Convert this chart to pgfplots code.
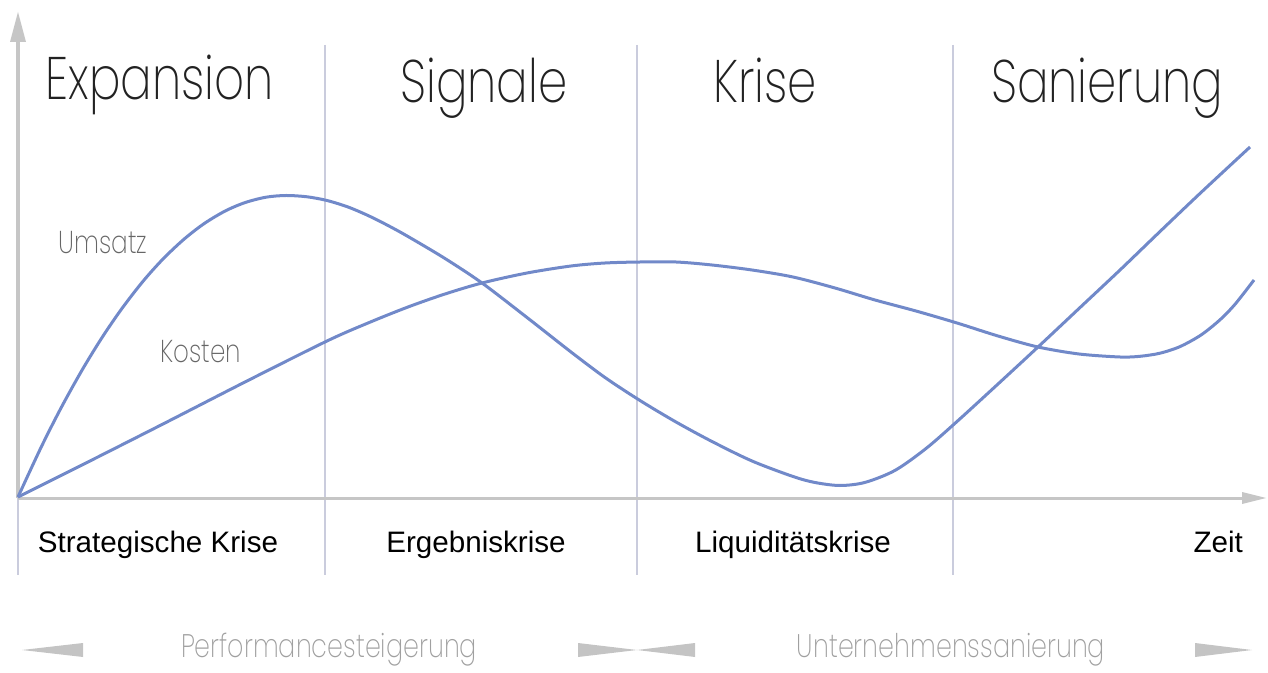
\documentclass[border=0pt]{standalone}
\usepackage{pgfplots}
\pgfplotsset{compat=1.18}
\usepackage{fontspec}
\setmainfont{Liberation Sans}
\newfontfamily\futura{Poppins ExtraLight}[FakeStretch=0.78]

\definecolor{curveblue}{HTML}{7189C9}
\definecolor{sepcol}{HTML}{CACCDD}
\definecolor{axisgrey}{HTML}{C6C6C6}
\definecolor{titlegrey}{HTML}{222222}
\definecolor{labelgrey}{HTML}{666666}
\definecolor{lightgrey}{HTML}{A0A0A0}
\definecolor{arrowgrey}{HTML}{C4C4C4}

\begin{document}
\begin{tikzpicture}
\begin{axis}[
  width=634pt, height=333pt, scale only axis,
  xmin=0, xmax=1268, ymin=0, ymax=666,
  y dir=reverse,
  hide axis, clip=false,
]
% frame for the bounding box
\path (axis cs:0,0) rectangle (axis cs:1268,666);

% phase separators
\addplot[sepcol, line width=0.8pt] coordinates {(325,45) (325,575)};
\addplot[sepcol, line width=0.8pt] coordinates {(637,45) (637,575)};
\addplot[sepcol, line width=0.8pt] coordinates {(953,45) (953,575)};
\addplot[sepcol, line width=0.8pt] coordinates {(18,498) (18,575)};

% axes
\draw[axisgrey, line width=1.8pt] (axis cs:18,498) -- (axis cs:18,38);
\fill[axisgrey] (axis cs:18,12) -- (axis cs:26,42) -- (axis cs:10,42) -- cycle;
\draw[axisgrey, line width=1.5pt] (axis cs:18,498) -- (axis cs:1245,498);
\fill[axisgrey] (axis cs:1266,498) -- (axis cs:1242,492) -- (axis cs:1242,504) -- cycle;

% Umsatz
\addplot[curveblue, line width=1.5pt, smooth] coordinates {
(18,497) (41,447.5) (61,408) (82,370.2) (102,337.6) (122,308.4) (143,281.3)
(163,259) (184,239.2) (204,223.7) (225,211.1) (245,202.6) (266,197.2)
(286,195.5) (307,196.8) (327,200.5) (348,207) (368,215.5) (388,225.5)
(408,236.5) (445,258.5) (482,283) (527,317.5) (571,352) (605,377.5)
(640,400.5) (676,422) (712,441.5) (752,461) (793,476.5) (815,482.5)
(840,485.5) (865,482.4) (895,470.4) (926,448.5) (957,421.5) (998,384)
(1038,347) (1079,308.5) (1120,270) (1160,231.5) (1201,192.5) (1250,147)};
% Kosten
\addplot[curveblue, line width=1.5pt, smooth] coordinates {
(18,497) (82,465) (163,424) (245,382) (327,341) (368,323) (408,307)
(445,294) (482,283) (527,273) (571,266) (605,263) (640,262) (676,262)
(712,265) (752,270) (793,277) (835,288) (875,300) (916,311) (957,323)
(998,336) (1038,347) (1079,354) (1120,357) (1140,356.3) (1160,353.2)
(1180,346.6) (1201,335) (1220,319.8) (1235,304.3) (1254,280)};

% phase titles
\begin{scope}[every node/.style={anchor=base, text=titlegrey,
    font=\futura\fontsize{30}{30}\selectfont}]
\node at (axis cs:160,100) {Expansion};
\node at (axis cs:484,103) {Signale};
\node at (axis cs:765,103) {Krise};
\node at (axis cs:1107,103) {Sanierung};
\end{scope}

% curve labels
\node[anchor=base, text=labelgrey, font=\futura\fontsize{15.8}{15.8}\selectfont]
  at (axis cs:103,254) {Umsatz};
\node[anchor=base, text=labelgrey, font=\futura\fontsize{15.8}{15.8}\selectfont]
  at (axis cs:201,363) {Kosten};

% crisis labels
\begin{scope}[every node/.style={anchor=base, text=black,
    font=\fontsize{14.8}{14.8}\selectfont}]
\node at (axis cs:158,552) {Strategische Krise};
\node at (axis cs:476,552) {Ergebniskrise};
\node at (axis cs:793,552) {Liquiditätskrise};
\node[anchor=base east] at (axis cs:1250,552) {Zeit};
\end{scope}

% bottom arrows
\fill[arrowgrey] (axis cs:22,650) -- (axis cs:83,643) -- (axis cs:83,657) -- cycle;
\fill[arrowgrey] (axis cs:637,650) -- (axis cs:578,643) -- (axis cs:578,657) -- cycle;
\fill[arrowgrey] (axis cs:637,650) -- (axis cs:695,643) -- (axis cs:695,657) -- cycle;
\fill[arrowgrey] (axis cs:1252,650) -- (axis cs:1195,643) -- (axis cs:1195,657) -- cycle;

\node[anchor=base, text=lightgrey, font=\futura\fontsize{16.3}{16.3}\selectfont]
  at (axis cs:329,657) {Performancesteigerung};
\node[anchor=base, text=lightgrey, font=\futura\fontsize{16.3}{16.3}\selectfont]
  at (axis cs:951,657) {Unternehmenssanierung};
\end{axis}
\end{tikzpicture}
\end{document}
